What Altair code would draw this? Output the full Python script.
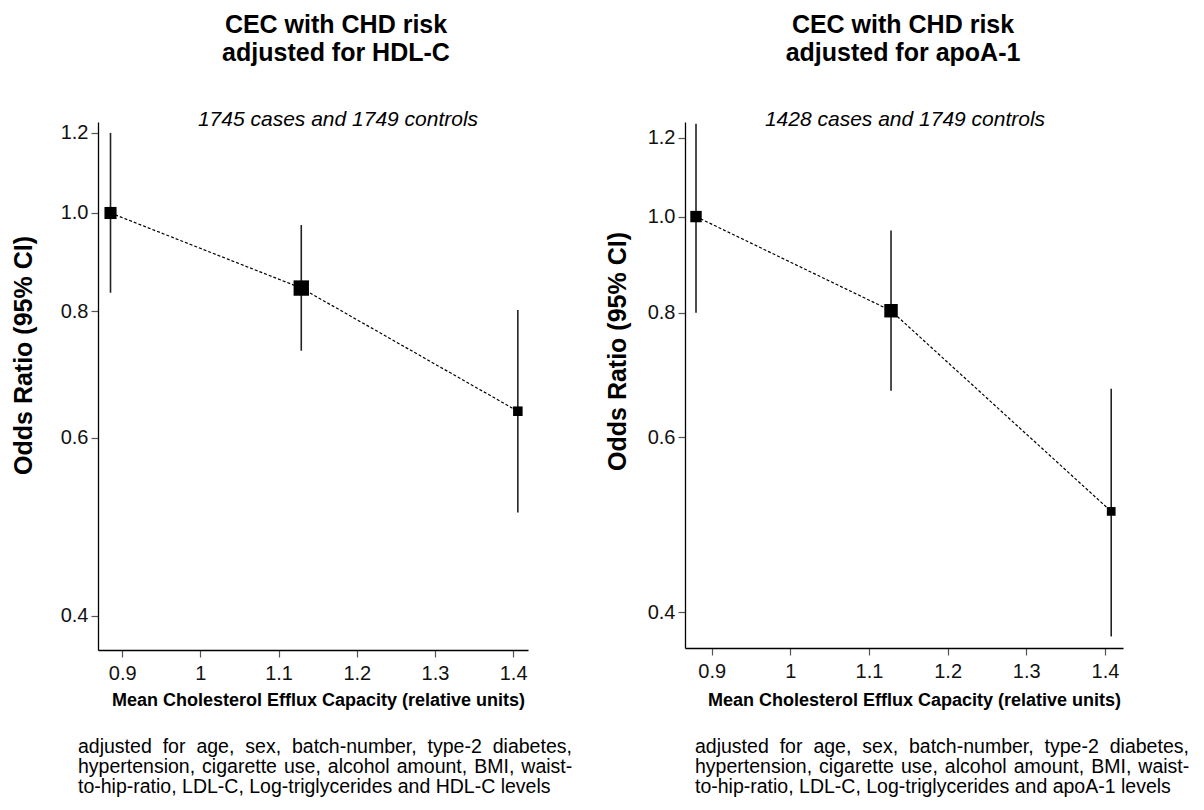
import altair as alt
import pandas as pd

# ---------------- data ----------------
# Left panel: adjusted for HDL-C
hdl_cec = [0.885, 1.129, 1.406]
hdl_or = [1.00, 0.843, 0.637]
hdl_lo = [0.834, 0.731, 0.506]
hdl_hi = [1.20, 0.973, 0.802]

# Right panel: adjusted for apoA-1
apo_cec = [0.880, 1.128, 1.408]
apo_or = [1.00, 0.804, 0.505]
apo_lo = [0.800, 0.668, 0.378]
apo_hi = [1.24, 0.968, 0.671]

y_ticks = [0.4, 0.6, 0.8, 1.0, 1.2]
x_ticks = [0.9, 1.0, 1.1, 1.2, 1.3, 1.4]

titles = [["CEC with CHD risk", "adjusted for HDL-C"],
          ["CEC with CHD risk", "adjusted for apoA-1"]]
subtitles = ["1745 cases and 1749 controls", "1428 cases and 1749 controls"]
foot_line1 = "adjusted for age, sex, batch-number, type-2 diabetes,"
foot_line2 = "hypertension, cigarette use, alcohol amount, BMI, waist-"
foot_last = ["to-hip-ratio, LDL-C, Log-triglycerides and HDL-C levels",
             "to-hip-ratio, LDL-C, Log-triglycerides and apoA-1 levels"]
x_title = "Mean Cholesterol Efflux Capacity (relative units)"
y_title = "Odds Ratio (95% CI)"

FONT = "Liberation Sans"

# crude justification of the first two footnote lines
def justify(s, extra):
    return s.replace(" ", " " + extra)

foot1 = justify(foot_line1, "\u2009\u200a")
foot2 = justify(foot_line2, "\u200a")


def panel(cec, orr, lo, hi, title, subtitle, last, w, h, xdom, ydom, k, lay):
    df = pd.DataFrame({"cec": cec, "or": orr, "lo": lo, "hi": hi})
    xscale = alt.Scale(domain=xdom, nice=False, zero=False)
    yscale = alt.Scale(type="log", domain=ydom, nice=False)
    xaxis = alt.Axis(values=x_ticks, format="~g", title=x_title, grid=False,
                     titleX=lay["xtx"], titleY=lay["xty"], titleAlign="center",
                     titleBaseline="alphabetic")
    yaxis = alt.Axis(values=y_ticks, format=".1f", title=y_title, grid=False,
                     titleX=lay["ytx"], titleY=lay["yty"], titleAlign="center",
                     titleBaseline="middle", titleAngle=270)

    def X():
        return alt.X("cec", type="quantitative", scale=xscale, axis=xaxis)

    def Y(f):
        return alt.Y(f, type="quantitative", scale=yscale, axis=yaxis)

    base = alt.Chart(df)
    rules = base.mark_rule(color="#222222", strokeWidth=1.6).encode(
        x=X(), y=Y("lo"), y2="hi")
    line = base.mark_line(color="black", strokeDash=[3, 2], strokeWidth=1.2).encode(
        x=X(), y=Y("or"))
    pts = base.transform_calculate(
        s=f"pow({k} / log(datum.hi / datum.lo), 2)"
    ).mark_square(color="black", filled=True, opacity=1).encode(
        x=X(), y=Y("or"), size=alt.Size("s:Q", scale=None, legend=None))

    layers = [rules, line, pts]

    def txt(t, x, y, **kw):
        return alt.Chart(pd.DataFrame({"t": [t]})).mark_text(font=FONT, color="black", **kw).encode(
            x=alt.value(x), y=alt.value(y), text="t:N")

    layers.append(txt(title[0], lay["tx"], -89, fontSize=25, fontWeight="bold",
                      align="center", baseline="alphabetic"))
    layers.append(txt(title[1], lay["tx"], -61, fontSize=25, fontWeight="bold",
                      align="center", baseline="alphabetic"))
    layers.append(txt(subtitle, lay["sx"], -2, fontSize=21, fontStyle="italic",
                      align="center", baseline="middle"))
    for i, t in enumerate([foot1, foot2, last]):
        layers.append(txt(t, lay["fx"], 631 + 20 * i, fontSize=19.5,
                          align="left", baseline="alphabetic"))

    return alt.layer(*layers).properties(width=w, height=h)


left = panel(hdl_cec, hdl_or, hdl_lo, hdl_hi, titles[0], subtitles[0], foot_last[0],
             430, 528, [0.869, 1.419], [0.37, 1.23], 4.4,
             dict(xtx=220, xty=55, ytx=-75, yty=233, tx=238, sx=240, fx=-20))
right = panel(apo_cec, apo_or, apo_lo, apo_hi, titles[1], subtitles[1], foot_last[1],
              438, 526, [0.866, 1.423], [0.368, 1.245], 5.0,
              dict(xtx=229, xty=57, ytx=-68, yty=229, tx=218, sx=220, fx=10))

chart = alt.hconcat(left, right, spacing=157, bounds="flush").properties(
    padding={"left": 3, "top": 5, "right": 0, "bottom": 0}
).configure(
    font=FONT, background="white"
).configure_view(
    stroke=None
).configure_axis(
    labelFont=FONT, titleFont=FONT, labelFontSize=20, labelColor="#111111",
    domainColor="black", domainWidth=1.3, tickColor="#555555", tickSize=7,
    tickWidth=1.2, labelPadding=3, titleColor="black",
).configure_axisX(
    titleFontSize=18, titleFontWeight="bold", labelPadding=6,
).configure_axisY(
    titleFontSize=25, titleFontWeight="bold",
)

chart.save("out.html", embed_options={"renderer": "svg", "actions": False})
